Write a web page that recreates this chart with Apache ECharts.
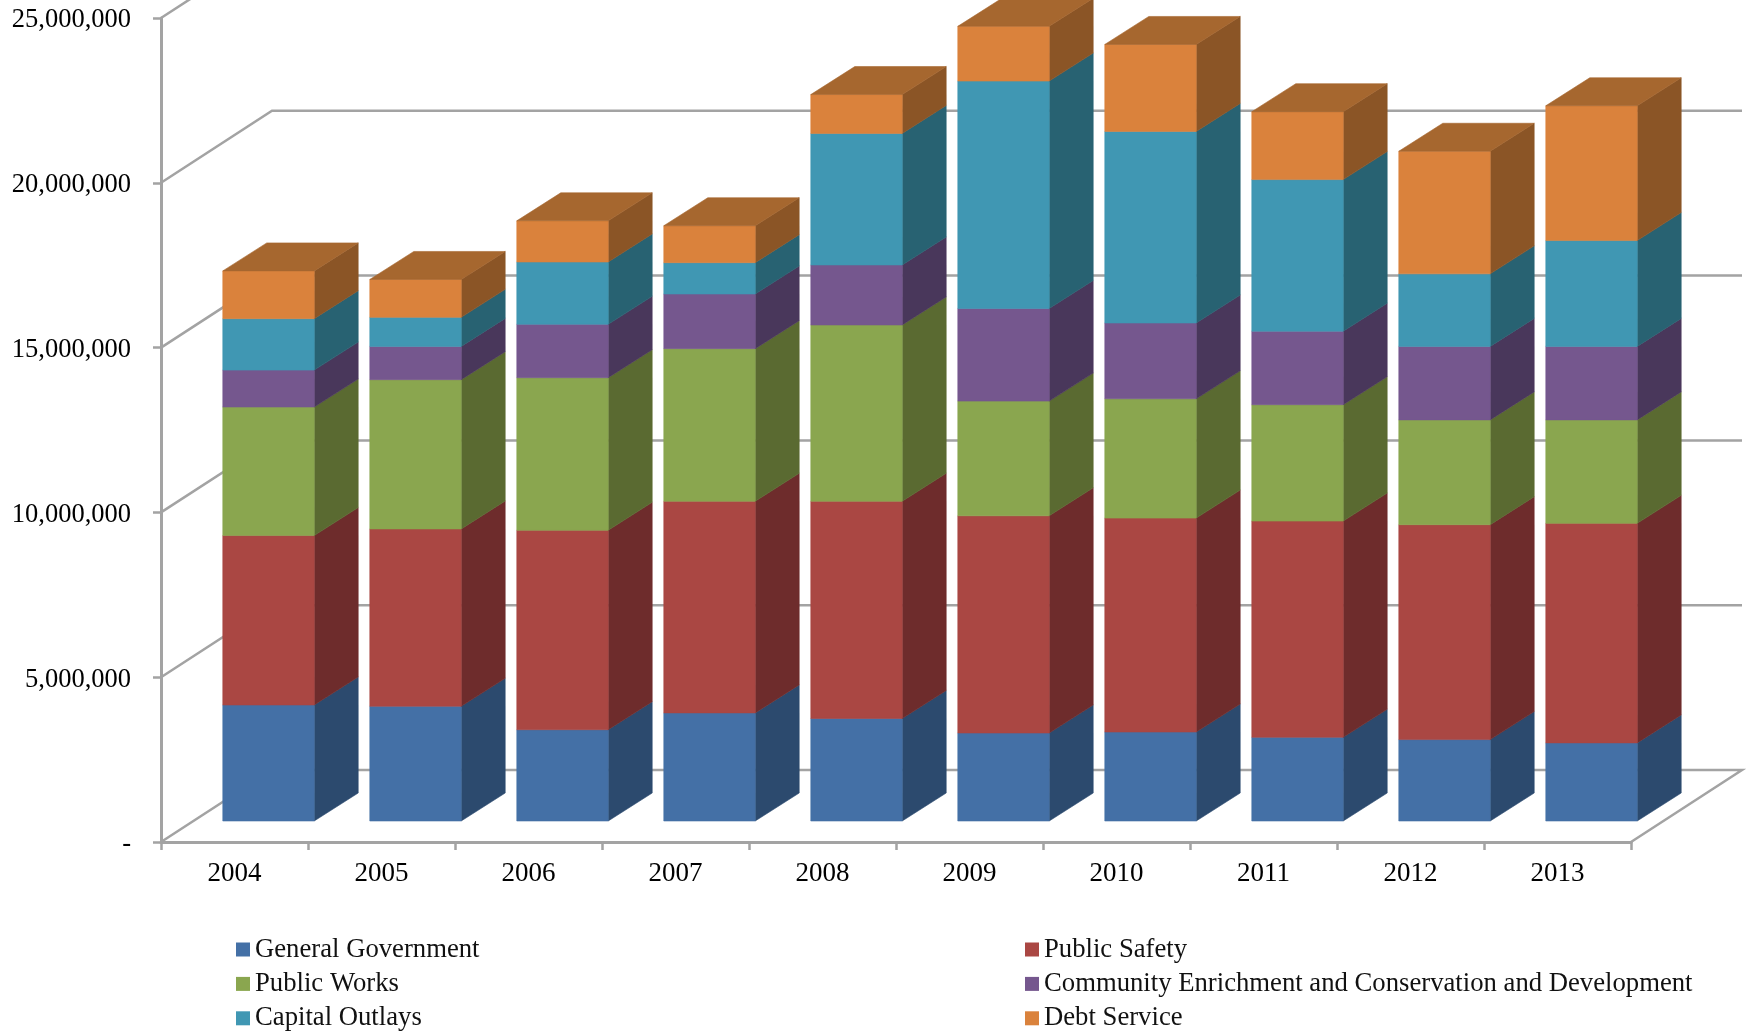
<!DOCTYPE html>
<html>
<head>
<meta charset="utf-8">
<style>html,body{margin:0;padding:0;background:#fff}#chart{width:1749px;height:1032px}</style>
<script src="https://cdn.jsdelivr.net/npm/echarts@6/dist/echarts.min.js"></script>
</head>
<body>
<div id="chart"></div>
<script>
// Annual expenditures by function, in dollars
const years = ['2004','2005','2006','2007','2008','2009','2010','2011','2012','2013'];
const generalGovernment = [3520000,3480000,2770000,3280000,3110000,2670000,2700000,2540000,2470000,2370000];
const publicSafety      = [5140000,5380000,6050000,6420000,6590000,6590000,6490000,6560000,6520000,6660000];
const publicWorks       = [3900000,4530000,4630000,4630000,5350000,3480000,3620000,3530000,3180000,3140000];
const communityEnrich   = [1120000,1010000,1620000,1660000,1820000,2810000,2300000,2230000,2230000,2230000];
const capitalOutlays    = [1560000, 880000,1890000, 950000,3990000,6900000,5810000,4600000,2200000,3210000];
const debtService       = [1450000,1150000,1250000,1120000,1180000,1660000,2640000,2060000,3720000,4090000];
const valueTicks = [0,5000000,10000000,15000000,20000000,25000000];

const FONT = '"Liberation Serif", "Times New Roman", serif';
const LINE = '#a3a3a3';

// Oblique projection: how far the floor recedes, and where a bar sits within it
const FLOOR_DX = 111, FLOOR_DY = -72;
const BAR_SHIFT_X = 34, BAR_SHIFT_Y = -21;
const BAR_DX = 44, BAR_DY = -28;
const BAR_RATIO = 0.622;

const layers = [
  {name:'General Government', values:generalGovernment, front:'#4470a6', side:'#2c4a6e', top:'#38598a'},
  {name:'Public Safety', values:publicSafety, front:'#aa4743', side:'#6e2c2c', top:'#8a3936'},
  {name:'Public Works', values:publicWorks, front:'#8aa64f', side:'#5a6a31', top:'#6f853f'},
  {name:'Community Enrichment and Conservation and Development', values:communityEnrich, front:'#75578e', side:'#49375b', top:'#5e4672'},
  {name:'Capital Outlays', values:capitalOutlays, front:'#4097b3', side:'#286272', top:'#337a91'},
  {name:'Debt Service', values:debtService, front:'#da823c', side:'#8b5526', top:'#a6672f'}
];

// Cumulative floor of each layer for every year
const running = years.map(() => 0);
const barSeries = layers.map((layer, li) => {
  const data = layer.values.map((v, j) => {
    const row = [j, running[j], running[j] + v];
    running[j] += v;
    return row;
  });
  const isTop = li === layers.length - 1;
  return {
    type: 'custom',
    name: layer.name,
    z: 5,
    itemStyle: {color: layer.front},
    encode: {x: 0, y: [1, 2]},
    data,
    renderItem(params, api) {
      const c = api.value(0);
      const slot = api.size([1, 0])[0];
      const bottom = api.coord([c, api.value(1)]);
      const top = api.coord([c, api.value(2)]);
      const w = slot * BAR_RATIO;
      const x0 = bottom[0] + BAR_SHIFT_X - w / 2, x1 = x0 + w;
      const yb = bottom[1] + BAR_SHIFT_Y, yt = top[1] + BAR_SHIFT_Y;
      const poly = (points, fill) => ({
        type: 'polygon',
        shape: {points},
        style: {fill, stroke: fill, lineWidth: 0.6}
      });
      const children = [
        poly([[x1, yb], [x1 + BAR_DX, yb + BAR_DY], [x1 + BAR_DX, yt + BAR_DY], [x1, yt]], layer.side),
        poly([[x0, yb], [x1, yb], [x1, yt], [x0, yt]], layer.front)
      ];
      if (isTop) {
        children.push(poly([[x0, yt], [x1, yt], [x1 + BAR_DX, yt + BAR_DY], [x0 + BAR_DX, yt + BAR_DY]], layer.top));
      }
      return {type: 'group', children};
    }
  };
});

// Floor edges and back-wall gridlines
const wallSeries = {
  type: 'custom',
  z: 1,
  silent: true,
  encode: {y: 0},
  data: valueTicks.map(v => [v]),
  renderItem(params, api) {
    const v = api.value(0);
    const slot = api.size([1, 0])[0];
    const start = api.coord([0, v]);
    const end = api.coord([years.length - 1, v]);
    const xl = start[0] - slot / 2, xr = end[0] + slot / 2, y = start[1];
    const points = [[xl, y], [xl + FLOOR_DX, y + FLOOR_DY], [xr + FLOOR_DX, y + FLOOR_DY]];
    if (v === 0) points.push([xr, y]);
    return {
      type: 'polyline',
      shape: {points},
      style: {fill: 'none', stroke: LINE, lineWidth: 2.5}
    };
  }
};

const legendText = {fontFamily: FONT, fontSize: 26.7, color: '#111'};
const legendBase = {
  orient: 'vertical', top: 936, itemWidth: 14, itemHeight: 14, itemGap: 7.4,
  padding: 0, selectedMode: false, icon: 'rect', textStyle: legendText
};

const chart = echarts.init(document.getElementById('chart'), null, {renderer: 'canvas'});
chart.setOption({
  animation: false,
  backgroundColor: '#fff',
  grid: {left: 161, top: 18, width: 1470, height: 824},
  xAxis: {
    type: 'category',
    data: years,
    boundaryGap: true,
    axisLine: {lineStyle: {color: LINE, width: 3}},
    axisTick: {show: true, alignWithLabel: false, length: 8, lineStyle: {color: LINE, width: 2.5}},
    axisLabel: {fontFamily: FONT, fontSize: 27, color: '#000', margin: 18},
    splitLine: {show: false}
  },
  yAxis: {
    type: 'value',
    min: 0,
    max: 25000000,
    interval: 5000000,
    axisLine: {show: true, lineStyle: {color: LINE, width: 3}},
    axisTick: {show: true, length: 8, lineStyle: {color: LINE, width: 2.5}},
    axisLabel: {
      fontFamily: FONT, fontSize: 26.5, color: '#000', margin: 30,
      verticalAlign: 'top', lineHeight: 5,
      formatter: v => v === 0 ? '-' : v.toLocaleString('en-US')
    },
    splitLine: {show: false}
  },
  legend: [
    Object.assign({}, legendBase, {left: 236, data: [layers[0].name, layers[2].name, layers[4].name]}),
    Object.assign({}, legendBase, {left: 1025, data: [layers[1].name, layers[3].name, layers[5].name]})
  ],
  series: [wallSeries].concat(barSeries)
});
</script>
</body>
</html>
